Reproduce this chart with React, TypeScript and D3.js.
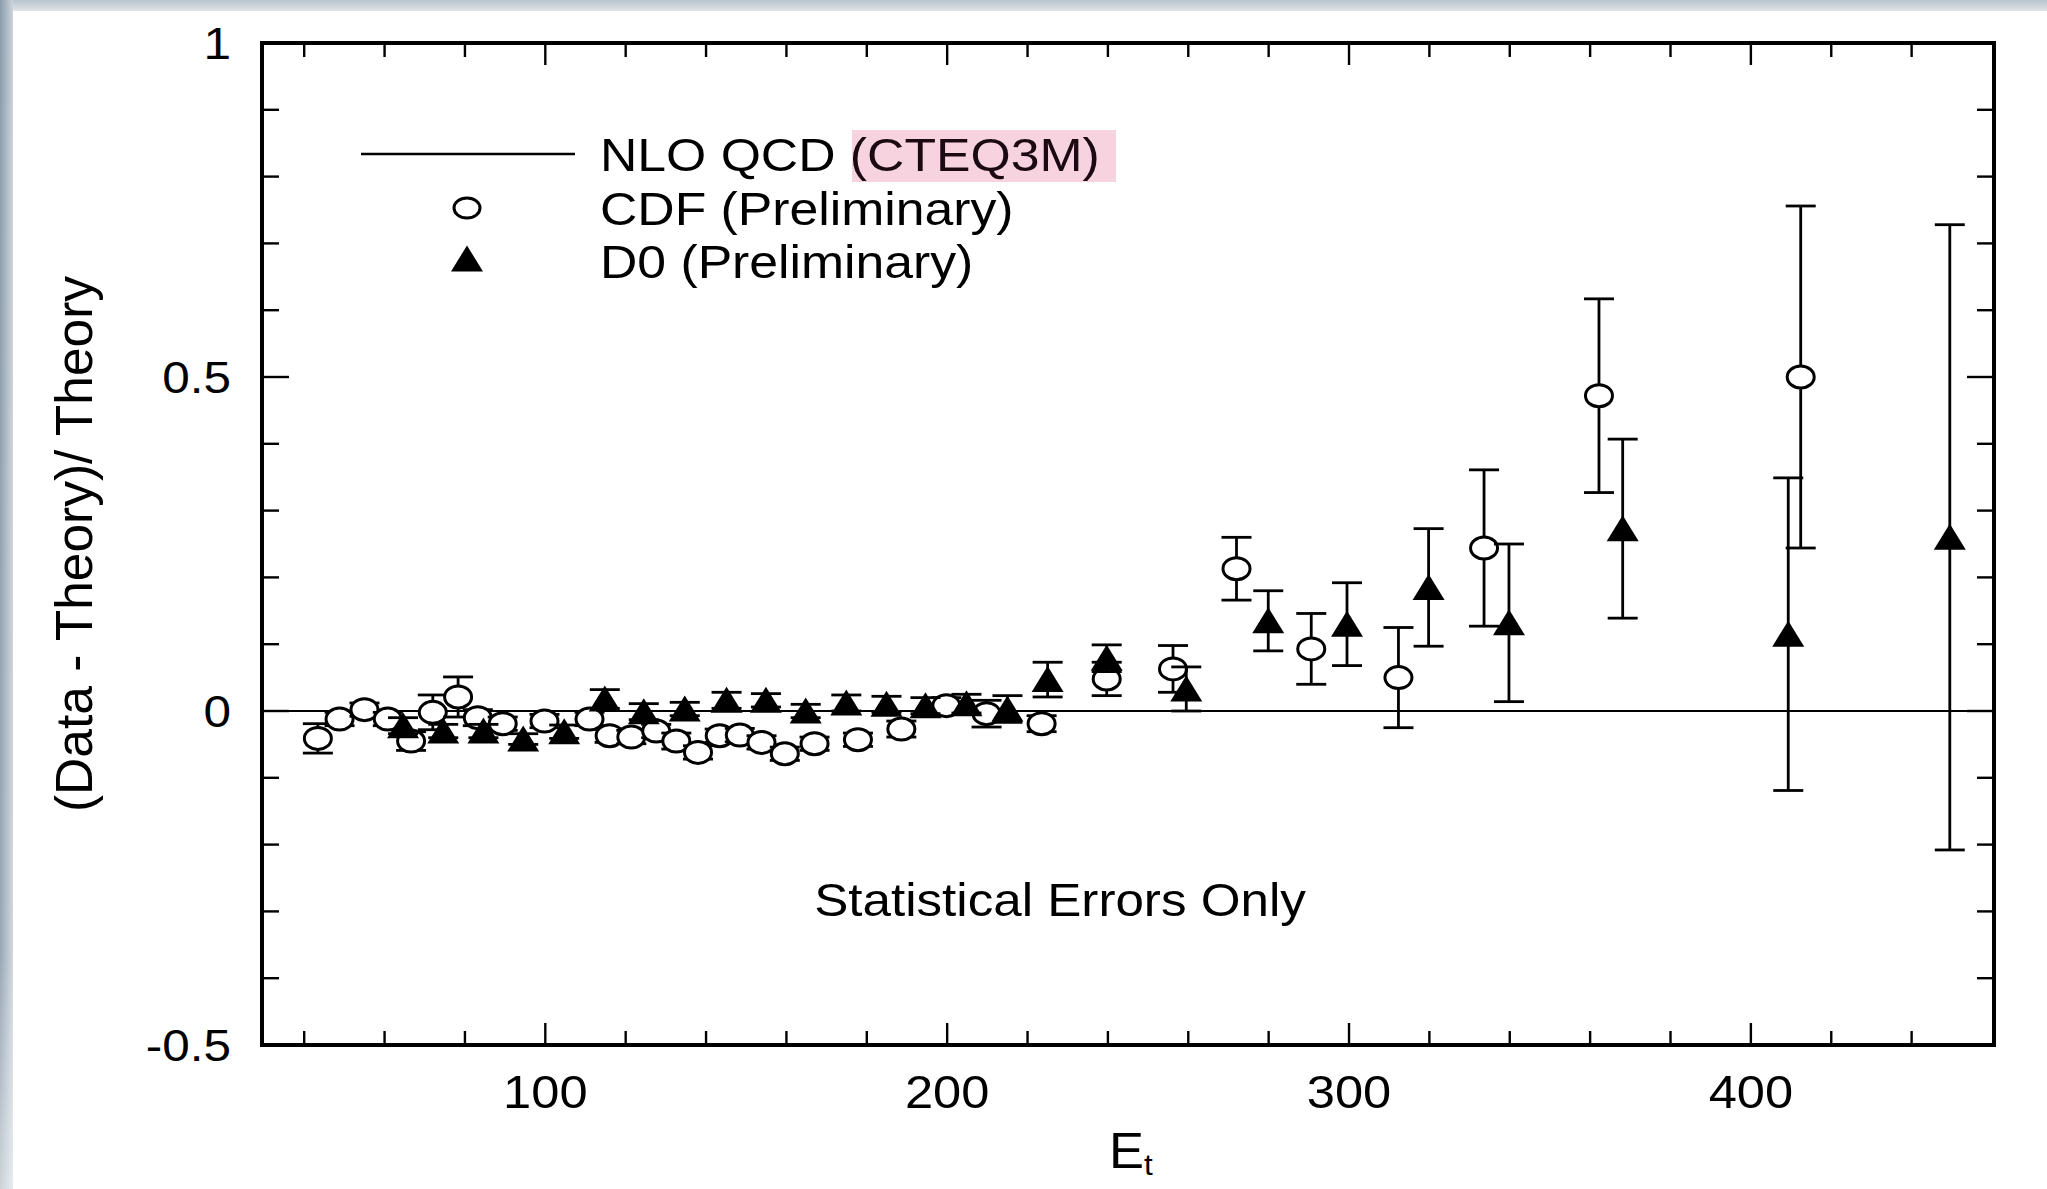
import React from 'react';
import * as d3 from 'd3';

// CDF (Preliminary): transverse energy, fractional deviation, statistical error
const cdfEt = [43.4, 48.8, 55.0, 60.8, 66.6, 72.0, 78.3, 83.2, 89.4, 99.8, 111.0, 116.0, 121.4, 127.6, 132.6, 138.0, 143.4, 148.4, 153.8, 159.6, 167.0, 177.8, 188.6, 199.8, 209.8, 223.5, 239.7, 256.2, 272.0, 290.6, 312.3, 333.6, 362.2, 412.4];
const cdfVal = [-0.041, -0.012, 0.002, -0.012, -0.045, -0.002, 0.021, -0.010, -0.019, -0.015, -0.012, -0.037, -0.039, -0.030, -0.045, -0.062, -0.037, -0.036, -0.047, -0.064, -0.049, -0.043, -0.027, 0.008, -0.004, -0.019, 0.048, 0.063, 0.213, 0.093, 0.050, 0.244, 0.472, 0.500];
const cdfErr = [0.022, 0.010, 0.010, 0.010, 0.014, 0.026, 0.030, 0.012, 0.010, 0.010, 0.010, 0.010, 0.010, 0.010, 0.012, 0.010, 0.010, 0.010, 0.010, 0.010, 0.010, 0.010, 0.012, 0.012, 0.020, 0.012, 0.025, 0.035, 0.047, 0.053, 0.075, 0.117, 0.145, 0.256];

// D0 (Preliminary)
const d0Et = [64.6, 74.6, 84.6, 94.5, 104.7, 114.8, 124.5, 134.7, 145.1, 154.9, 164.8, 174.9, 184.9, 194.6, 204.8, 215.0, 225.0, 239.7, 259.5, 279.9, 299.5, 319.8, 339.8, 368.1, 409.3, 449.5];
const d0Val = [-0.022, -0.030, -0.030, -0.042, -0.031, 0.018, -0.001, 0.003, 0.016, 0.016, 0.000, 0.012, 0.010, 0.008, 0.011, 0.003, 0.047, 0.079, 0.033, 0.135, 0.130, 0.185, 0.132, 0.273, 0.115, 0.260];
const d0Err = [0.012, 0.010, 0.010, 0.008, 0.010, 0.014, 0.012, 0.010, 0.012, 0.010, 0.010, 0.012, 0.012, 0.012, 0.014, 0.020, 0.026, 0.020, 0.033, 0.045, 0.062, 0.088, 0.118, 0.134, 0.234, 0.468];

const xMajorTicks = [100, 200, 300, 400];
const xTickLabels = ['100', '200', '300', '400'];
const yMajorTicks = [-0.5, 0, 0.5, 1];
const yTickLabels = ['-0.5', '0', '0.5', '1'];

const W = 2047;
const H = 1189;
const FONT = '"Liberation Sans", Arial, Helvetica, sans-serif';

const x = d3.scaleLinear().domain([29.5, 460.5]).range([262, 1994]);
const y = d3.scaleLinear().domain([-0.5, 1]).range([1045, 43]);

const xMinorTicks = d3.range(40, 460, 20).filter((v) => v % 100 !== 0);
const yMinorTicks = d3.range(-4, 10).map((i) => i / 10).filter((v) => Math.abs(v * 2 - Math.round(v * 2)) > 1e-6);

const triPath = 'M0,-13.5L16,12.5L-16,12.5Z';
const CAP = 15;

function Stretched(props: { x: number; y: number; size: number; anchor?: string; children: React.ReactNode; fill?: string }) {
  const { x: tx, y: ty, size, anchor = 'start', children, fill = '#000' } = props;
  return (
    <text
      transform={`translate(${tx},${ty}) scale(1.1,1)`}
      fontSize={size}
      fontFamily={FONT}
      textAnchor={anchor}
      fill={fill}
    >
      {children}
    </text>
  );
}

function ErrorBar({ cx, v, e }: { cx: number; v: number; e: number }) {
  const px = x(cx);
  const y0 = y(v - e);
  const y1 = y(v + e);
  return (
    <g stroke="#000" strokeWidth={2.8}>
      <line x1={px} x2={px} y1={y0} y2={y1} />
      <line x1={px - CAP} x2={px + CAP} y1={y0} y2={y0} />
      <line x1={px - CAP} x2={px + CAP} y1={y1} y2={y1} />
    </g>
  );
}

export default function App() {
  const plotLeft = x.range()[0];
  const plotRight = x.range()[1];
  const plotTop = y.range()[1];
  const plotBottom = y.range()[0];

  return (
    <svg
      width={W}
      height={H}
      viewBox={`0 0 ${W} ${H}`}
      style={{ position: 'absolute', left: 0, top: 0, display: 'block' }}
    >
      <defs>
        <linearGradient id="edgeLeft" x1="0" x2="1" y1="0" y2="0">
          <stop offset="0" stopColor="#8c9cab" />
          <stop offset="1" stopColor="#ccd4db" />
        </linearGradient>
        <linearGradient id="edgeLeftFade" x1="0" x2="0" y1="0" y2="1">
          <stop offset="0" stopColor="#ffffff" stopOpacity={0} />
          <stop offset="0.8" stopColor="#ffffff" stopOpacity={0.1} />
          <stop offset="1" stopColor="#ffffff" stopOpacity={0.55} />
        </linearGradient>
        <linearGradient id="edgeTop" x1="0" x2="0" y1="0" y2="1">
          <stop offset="0" stopColor="#b9c3cc" />
          <stop offset="1" stopColor="#dfe4e8" />
        </linearGradient>
      </defs>

      {/* page background */}
      <rect x={0} y={0} width={W} height={H} fill="#ffffff" />
      <rect x={0} y={0} width={W} height={11} fill="url(#edgeTop)" />
      <rect x={0} y={0} width={13} height={H} fill="url(#edgeLeft)" />
      <rect x={0} y={0} width={13} height={H} fill="url(#edgeLeftFade)" />

      {/* theory reference line */}
      <line x1={plotLeft} x2={plotRight} y1={y(0)} y2={y(0)} stroke="#000" strokeWidth={2.2} />

      {/* x ticks, bottom and top; y ticks, left and right */}
      <g stroke="#000" strokeWidth={2.4}>
        {xMajorTicks.map((t) => (
          <g key={`xM${t}`}>
            <line x1={x(t)} x2={x(t)} y1={plotBottom} y2={plotBottom - 22} />
            <line x1={x(t)} x2={x(t)} y1={plotTop} y2={plotTop + 22} />
          </g>
        ))}
        {xMinorTicks.map((t) => (
          <g key={`xm${t}`}>
            <line x1={x(t)} x2={x(t)} y1={plotBottom} y2={plotBottom - 14} />
            <line x1={x(t)} x2={x(t)} y1={plotTop} y2={plotTop + 14} />
          </g>
        ))}
        {yMajorTicks.map((t) => (
          <g key={`yM${t}`}>
            <line x1={plotLeft} x2={plotLeft + 27} y1={y(t)} y2={y(t)} />
            <line x1={plotRight} x2={plotRight - 27} y1={y(t)} y2={y(t)} />
          </g>
        ))}
        {yMinorTicks.map((t) => (
          <g key={`ym${t}`}>
            <line x1={plotLeft} x2={plotLeft + 17} y1={y(t)} y2={y(t)} />
            <line x1={plotRight} x2={plotRight - 17} y1={y(t)} y2={y(t)} />
          </g>
        ))}
      </g>

      {/* frame */}
      <rect
        x={plotLeft}
        y={plotTop}
        width={plotRight - plotLeft}
        height={plotBottom - plotTop}
        fill="none"
        stroke="#000"
        strokeWidth={4}
      />

      {/* tick labels */}
      {xMajorTicks.map((t, i) => (
        <Stretched key={`xl${t}`} x={x(t)} y={1108} size={46} anchor="middle">
          {xTickLabels[i]}
        </Stretched>
      ))}
      {yMajorTicks.map((t, i) => (
        <Stretched key={`yl${t}`} x={231} y={y(t) + 16} size={45} anchor="end">
          {yTickLabels[i]}
        </Stretched>
      ))}

      {/* axis titles */}
      <text
        transform="translate(92,544) rotate(-90)"
        fontSize={51.5}
        fontFamily={FONT}
        textAnchor="middle"
        fill="#000"
      >
        (Data - Theory)/ Theory
      </text>
      <text transform="translate(1109,1168) scale(1.05,1)" fontSize={50} fontFamily={FONT} fill="#000">
        E
        <tspan fontSize={30} dy={7}>t</tspan>
      </text>

      <Stretched x={1060} y={916} size={46.5} anchor="middle">
        Statistical Errors Only
      </Stretched>

      {/* CDF points */}
      <g>
        {cdfEt.map((et, i) => (
          <g key={`cdf${i}`}>
            <ErrorBar cx={et} v={cdfVal[i]} e={cdfErr[i]} />
            <ellipse cx={x(et)} cy={y(cdfVal[i])} rx={13.5} ry={11} fill="#fff" stroke="#000" strokeWidth={3} />
          </g>
        ))}
      </g>

      {/* D0 points */}
      <g>
        {d0Et.map((et, i) => (
          <g key={`d0${i}`}>
            <ErrorBar cx={et} v={d0Val[i]} e={d0Err[i]} />
            <path d={triPath} transform={`translate(${x(et)},${y(d0Val[i])})`} fill="#000" />
          </g>
        ))}
      </g>

      {/* legend */}
      <line x1={361} x2={575} y1={154} y2={154} stroke="#000" strokeWidth={2.6} />
      <rect x={852} y={130} width={264} height={52} fill="#f6d3df" />
      <Stretched x={600} y={171} size={47}>
        NLO QCD <tspan fill="#1c0a12">(CTEQ3M)</tspan>
      </Stretched>
      <ellipse cx={467} cy={208} rx={13} ry={10} fill="#fff" stroke="#000" strokeWidth={3} />
      <Stretched x={600} y={224.5} size={47}>
        CDF (Preliminary)
      </Stretched>
      <path d={triPath} transform="translate(467,259)" fill="#000" />
      <Stretched x={600} y={278} size={47}>
        D0 (Preliminary)
      </Stretched>
    </svg>
  );
}
